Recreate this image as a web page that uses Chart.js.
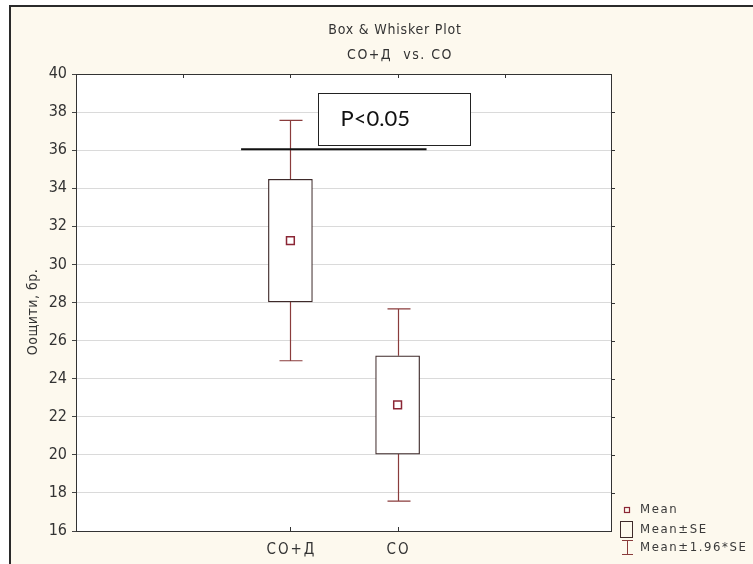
<!DOCTYPE html>
<html>
<head>
<meta charset="utf-8">
<title>Box & Whisker Plot</title>
<script src="https://cdn.jsdelivr.net/npm/chart.js@4.4.0/dist/chart.umd.min.js"></script>
<style>
    html, body { margin: 0; padding: 0; background: #ffffff; }
    #wrap { width: 753px; height: 564px; }
</style>
</head>
<body>
<div id="wrap"><canvas id="boxChart" width="753" height="564"></canvas></div>
<script>
// ============ DATA ============
// x slots: the two groups sit on slots 2 and 3 of a six-slot axis
const slots = ['', '', 'CO+Д', 'CO', '', ''];
const groupSlot = [2, 3];
const means = [31.25, 22.62];
const seLow = [28.03, 20.04];
const seHigh = [34.47, 25.20];
const ciLow = [24.94, 17.57];
const ciHigh = [37.56, 27.67];
const yMin = 16;
const yMax = 40;
const yStep = 2;

const pText = 'P<0.05';
const pLevel = 36.05;

const FONT = "'Liberation Sans Narrow', 'DejaVu Sans Condensed', Arial, sans-serif";
const BOX_COLOR = '#3e2a2a';
const WHISKER_COLOR = '#8a3c3c';
const MEAN_COLOR = '#8b2635';

// one value per slot, null where no group sits
function perSlot(fn) {
    return slots.map((s, i) => {
        const k = groupSlot.indexOf(i);
        return k < 0 ? null : fn(k);
    });
}

// ============ BACKGROUND AND FRAME ============
const framePlugin = {
    id: 'frame',
    beforeDraw(chart) {
        const { ctx, chartArea: a } = chart;
        ctx.save();
        ctx.fillStyle = '#ffffff';
        ctx.fillRect(0, 0, chart.width, chart.height);
        ctx.fillStyle = '#fdf9ee';
        ctx.fillRect(11, 7, chart.width - 11, chart.height - 7);
        ctx.strokeStyle = '#2a2a2a';
        ctx.lineWidth = 2;
        ctx.beginPath();
        ctx.moveTo(10, chart.height);
        ctx.lineTo(10, 6);
        ctx.lineTo(chart.width, 6);
        ctx.stroke();
        ctx.fillStyle = '#ffffff';
        ctx.fillRect(a.left, a.top, a.right - a.left, a.bottom - a.top);
        ctx.restore();
    },
    afterDraw(chart) {
        const { ctx, chartArea: a, scales } = chart;
        ctx.save();
        ctx.strokeStyle = '#333333';
        ctx.lineWidth = 1;
        ctx.strokeRect(a.left + 0.5, a.top + 0.5, a.right - a.left - 1, a.bottom - a.top);

        // inner ticks on the top and bottom edges, outer ticks on the right
        ctx.beginPath();
        [1, 2, 3, 4].forEach(i => {
            const x = Math.round(scales.x.getPixelForValue(i)) + 0.5;
            ctx.moveTo(x, a.top);
            ctx.lineTo(x, a.top + 4);
        });
        groupSlot.forEach(i => {
            const x = Math.round(scales.x.getPixelForValue(i)) + 0.5;
            ctx.moveTo(x, a.bottom);
            ctx.lineTo(x, a.bottom - 4);
        });
        for (let v = yMin + yStep; v < yMax; v += yStep) {
            const y = Math.round(scales.y.getPixelForValue(v)) + 0.5;
            ctx.moveTo(a.right, y);
            ctx.lineTo(a.right + 3, y);
        }
        ctx.stroke();

        // category labels, letter-spaced
        ctx.fillStyle = '#333333';
        ctx.font = '15px ' + FONT;
        ctx.letterSpacing = '2px';
        ctx.textAlign = 'center';
        ctx.textBaseline = 'middle';
        groupSlot.forEach(i => {
            ctx.fillText(slots[i], scales.x.getPixelForValue(i) + 1, a.bottom + 19);
        });
        ctx.restore();
    }
};

// ============ WHISKERS (Mean ± 1.96*SE) ============
const whiskerPlugin = {
    id: 'whiskers',
    beforeDatasetsDraw(chart) {
        const { ctx, scales } = chart;
        ctx.save();
        ctx.strokeStyle = WHISKER_COLOR;
        ctx.lineWidth = 1.2;
        ctx.beginPath();
        groupSlot.forEach((slot, k) => {
            const x = Math.round(scales.x.getPixelForValue(slot)) + 0.5;
            const yTop = scales.y.getPixelForValue(ciHigh[k]);
            const yBoxTop = scales.y.getPixelForValue(seHigh[k]);
            const yBoxBot = scales.y.getPixelForValue(seLow[k]);
            const yBot = scales.y.getPixelForValue(ciLow[k]);
            ctx.moveTo(x, yTop);
            ctx.lineTo(x, yBoxTop);
            ctx.moveTo(x, yBoxBot);
            ctx.lineTo(x, yBot);
            ctx.moveTo(x - 11, yTop);
            ctx.lineTo(x + 12, yTop);
            ctx.moveTo(x - 11, yBot);
            ctx.lineTo(x + 12, yBot);
        });
        ctx.stroke();
        ctx.restore();
    }
};

// ============ TITLES, SIGNIFICANCE MARK, LEGEND ============
const notesPlugin = {
    id: 'notes',
    afterDraw(chart) {
        const { ctx, scales } = chart;
        ctx.save();

        // titles
        ctx.fillStyle = '#333333';
        ctx.textAlign = 'center';
        ctx.textBaseline = 'middle';
        ctx.font = '14px ' + FONT;
        ctx.letterSpacing = '0.8px';
        ctx.fillText('Box & Whisker Plot', 395, 30);
        ctx.letterSpacing = '1.5px';
        ctx.fillText('CO+Д  vs. CO', 400, 55);

        // y axis title
        ctx.save();
        ctx.translate(33, 312);
        ctx.rotate(-Math.PI / 2);
        ctx.letterSpacing = '0.5px';
        ctx.fillText('Оощити, бр.', 0, 0);
        ctx.restore();

        // significance line
        const ySig = scales.y.getPixelForValue(pLevel);
        ctx.strokeStyle = '#111111';
        ctx.lineWidth = 2;
        ctx.beginPath();
        ctx.moveTo(scales.x.getPixelForValue(1.54), ySig);
        ctx.lineTo(scales.x.getPixelForValue(3.27), ySig);
        ctx.stroke();

        // p-value box
        const bx0 = Math.round(scales.x.getPixelForValue(2.26)) + 0.5;
        const bx1 = Math.round(scales.x.getPixelForValue(3.68)) + 0.5;
        const by0 = Math.round(scales.y.getPixelForValue(39.0)) + 0.5;
        const by1 = Math.round(scales.y.getPixelForValue(36.28)) + 0.5;
        ctx.fillStyle = '#ffffff';
        ctx.fillRect(bx0, by0, bx1 - bx0, by1 - by0);
        ctx.strokeStyle = '#222222';
        ctx.lineWidth = 1;
        ctx.strokeRect(bx0, by0, bx1 - bx0, by1 - by0);
        ctx.fillStyle = '#111111';
        ctx.textAlign = 'left';
        ctx.textBaseline = 'alphabetic';
        ctx.letterSpacing = '0px';
        ctx.font = '22px Lato, "Open Sans", sans-serif';
        ctx.fillText(pText, bx0 + 22, 126);

        // legend
        const lx = 627;
        ctx.font = '13px ' + FONT;
        ctx.letterSpacing = '1.6px';
        ctx.fillStyle = '#3a3a3a';
        ctx.textBaseline = 'middle';
        ctx.fillText('Mean', 640, 510);
        ctx.fillText('Mean±SE', 640, 530);
        ctx.fillText('Mean±1.96*SE', 640, 548);

        ctx.strokeStyle = MEAN_COLOR;
        ctx.lineWidth = 1.2;
        ctx.strokeRect(lx - 2.5, 507.5, 5, 5);

        ctx.strokeStyle = BOX_COLOR;
        ctx.lineWidth = 1;
        ctx.strokeRect(620.5, 521.5, 12, 16);

        ctx.strokeStyle = WHISKER_COLOR;
        ctx.beginPath();
        ctx.moveTo(lx - 5, 540.5);
        ctx.lineTo(lx + 6, 540.5);
        ctx.moveTo(lx + 0.5, 540.5);
        ctx.lineTo(lx + 0.5, 554.5);
        ctx.moveTo(lx - 5, 554.5);
        ctx.lineTo(lx + 6, 554.5);
        ctx.stroke();

        ctx.restore();
    }
};

// ============ CHART ============
const ctx = document.getElementById('boxChart').getContext('2d');
const boxChart = new Chart(ctx, {
    type: 'bar',
    data: {
        labels: slots,
        datasets: [
            {
                label: 'Mean±SE',
                data: perSlot(k => [seLow[k], seHigh[k]]),
                backgroundColor: '#ffffff',
                borderColor: BOX_COLOR,
                borderWidth: 1.2,
                borderSkipped: false,
                barThickness: 44,
                order: 2
            },
            {
                type: 'line',
                label: 'Mean',
                data: perSlot(k => means[k]),
                showLine: false,
                pointStyle: 'rect',
                pointRadius: 5.5,
                pointBorderWidth: 1.5,
                pointBackgroundColor: '#ffffff',
                pointBorderColor: MEAN_COLOR,
                order: 1
            }
        ]
    },
    options: {
        responsive: false,
        animation: false,
        layout: { padding: { top: 74, right: 141, bottom: 0, left: 12 } },
        plugins: {
            legend: { display: false },
            title: { display: false },
            tooltip: { enabled: false }
        },
        scales: {
            x: {
                type: 'category',
                offset: false,
                grid: { display: false, drawTicks: false },
                border: { display: false },
                ticks: { display: false },
                afterFit(scale) { scale.height = 33; }
            },
            y: {
                min: yMin,
                max: yMax,
                border: { display: false },
                grid: {
                    color: '#dadada',
                    tickColor: '#444444',
                    tickLength: 4,
                    lineWidth: 1
                },
                ticks: {
                    stepSize: yStep,
                    padding: 5,
                    color: '#333333',
                    font: { family: FONT, size: 16 }
                },
                afterFit(scale) { scale.width = 64; }
            }
        }
    },
    plugins: [framePlugin, whiskerPlugin, notesPlugin]
});
</script>
</body>
</html>
